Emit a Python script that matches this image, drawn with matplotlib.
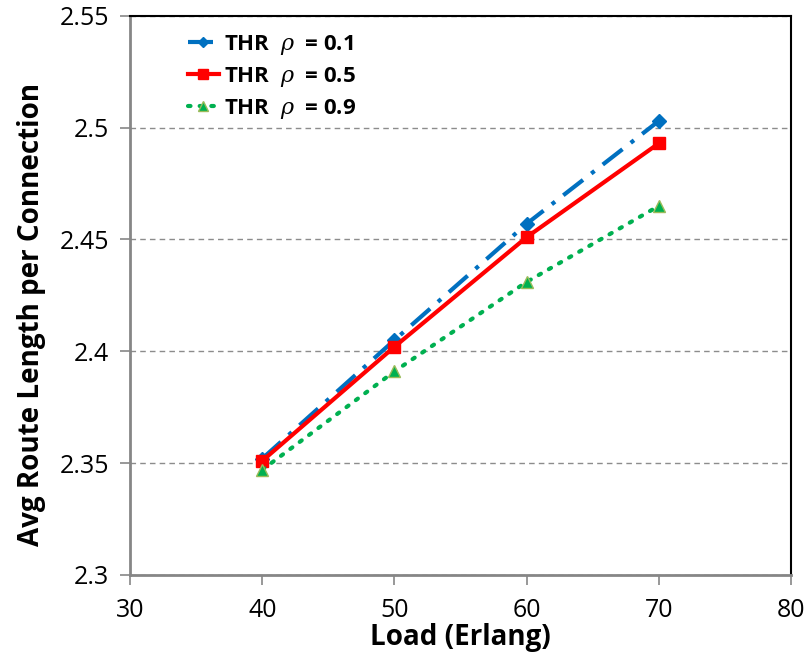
import matplotlib
matplotlib.use("Agg")
import matplotlib.pyplot as plt

# data
load = [40, 50, 60, 70]
thr_01 = [2.352, 2.405, 2.457, 2.503]
thr_05 = [2.351, 2.402, 2.451, 2.493]
thr_09 = [2.347, 2.391, 2.431, 2.465]
labels = [r'THR  $\rho$  = 0.1', r'THR  $\rho$  = 0.5', r'THR  $\rho$  = 0.9']

plt.rcParams['font.family'] = ['Open Sans', 'DejaVu Sans']
plt.rcParams['mathtext.fontset'] = 'custom'
plt.rcParams['mathtext.it'] = 'DejaVu Serif:italic'

fig = plt.figure(figsize=(8.08, 6.60), dpi=100)
ax = fig.add_axes([0.161, 0.129, 0.818, 0.847])

ax.plot(load, thr_01, color='#0070C0', lw=3, linestyle=(0, (6, 2.5, 1, 2.5)),
        marker='D', markersize=7, label=labels[0])
ax.plot(load, thr_05, color='#FF0000', lw=3, linestyle='-',
        marker='s', markersize=9, label=labels[1])
ax.plot(load, thr_09, color='#00B050', lw=3, linestyle=(0, (0.6, 2.2)),
        dash_capstyle='round', marker='^', markersize=9,
        markerfacecolor='#00B050', markeredgecolor='#9BBB59', label=labels[2])

ax.set_xlim(30, 80)
ax.set_ylim(2.3, 2.55)
ax.set_xticks([30, 40, 50, 60, 70, 80])
ax.set_yticks([2.3, 2.35, 2.4, 2.45, 2.5, 2.55])
ax.set_yticklabels(['2.3', '2.35', '2.4', '2.45', '2.5', '2.55'])

ax.yaxis.grid(True, linestyle=(0, (4, 3)), color='#8C8C8C', lw=1)
ax.set_axisbelow(True)

for s in ['left', 'bottom']:
    ax.spines[s].set_color('#868686')
    ax.spines[s].set_linewidth(2)
for s in ['top', 'right']:
    ax.spines[s].set_color('black')
    ax.spines[s].set_linewidth(1.5)

ax.tick_params(axis='both', labelsize=18, color='#868686', length=7, width=1.2)
ax.tick_params(axis='y', pad=8)
ax.tick_params(axis='x', pad=10)

ax.set_xlabel('Load (Erlang)', fontsize=20, fontweight='bold', labelpad=0)
ax.set_ylabel('Avg Route Length per Connection', fontsize=20, fontweight='bold')
ax.yaxis.set_label_coords(-0.127, 0.465)

leg = ax.legend(loc='upper left', bbox_to_anchor=(0.057, 1.005), frameon=False,
                prop={'size': 16, 'weight': 'bold'}, handlelength=1.4,
                handletextpad=0.25, labelspacing=0.35, markerscale=0.8)

fig.savefig('out.png', dpi=100)
